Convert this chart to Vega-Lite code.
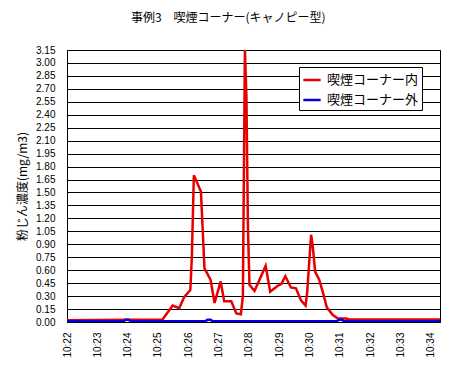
{
  "$schema": "https://vega.github.io/schema/vega-lite/v6.json",
  "autosize": {"type": "none"},
  "width": 373,
  "height": 272,
  "padding": {"left": 67, "top": 50, "right": 20, "bottom": 49},
  "background": "white",
  "title": {
    "text": "事例3　喫煙コーナー(キャノピー型)",
    "font": "Noto Sans CJK JP",
    "fontSize": 12,
    "fontWeight": "normal",
    "color": "black",
    "anchor": "middle",
    "frame": "bounds",
    "offset": 20
  },
  "config": {
    "view": {"stroke": "black", "strokeWidth": 1},
    "axis": {"grid": false, "domain": false, "ticks": false, "labelColor": "black", "titleColor": "black"}
  },
  "data": {
    "values": [
      {"sec": 0, "series": "喫煙コーナー内", "v": 0.02},
      {"sec": 189, "series": "喫煙コーナー内", "v": 0.03},
      {"sec": 209, "series": "喫煙コーナー内", "v": 0.19},
      {"sec": 222, "series": "喫煙コーナー内", "v": 0.16},
      {"sec": 232, "series": "喫煙コーナー内", "v": 0.29},
      {"sec": 244, "series": "喫煙コーナー内", "v": 0.37},
      {"sec": 247, "series": "喫煙コーナー内", "v": 0.75},
      {"sec": 251, "series": "喫煙コーナー内", "v": 1.70},
      {"sec": 265, "series": "喫煙コーナー内", "v": 1.51},
      {"sec": 272, "series": "喫煙コーナー内", "v": 0.62},
      {"sec": 284, "series": "喫煙コーナー内", "v": 0.49},
      {"sec": 292, "series": "喫煙コーナー内", "v": 0.22},
      {"sec": 304, "series": "喫煙コーナー内", "v": 0.47},
      {"sec": 311, "series": "喫煙コーナー内", "v": 0.24},
      {"sec": 325, "series": "喫煙コーナー内", "v": 0.24},
      {"sec": 335, "series": "喫煙コーナー内", "v": 0.10},
      {"sec": 344, "series": "喫煙コーナー内", "v": 0.09},
      {"sec": 348, "series": "喫煙コーナー内", "v": 0.30},
      {"sec": 352, "series": "喫煙コーナー内", "v": 3.15},
      {"sec": 355, "series": "喫煙コーナー内", "v": 2.60},
      {"sec": 358, "series": "喫煙コーナー内", "v": 1.10},
      {"sec": 361, "series": "喫煙コーナー内", "v": 0.43},
      {"sec": 371, "series": "喫煙コーナー内", "v": 0.36},
      {"sec": 393, "series": "喫煙コーナー内", "v": 0.65},
      {"sec": 402, "series": "喫煙コーナー内", "v": 0.35},
      {"sec": 417, "series": "喫煙コーナー内", "v": 0.42},
      {"sec": 424, "series": "喫煙コーナー内", "v": 0.44},
      {"sec": 432, "series": "喫煙コーナー内", "v": 0.53},
      {"sec": 443, "series": "喫煙コーナー内", "v": 0.40},
      {"sec": 453, "series": "喫煙コーナー内", "v": 0.39},
      {"sec": 463, "series": "喫煙コーナー内", "v": 0.25},
      {"sec": 472, "series": "喫煙コーナー内", "v": 0.19},
      {"sec": 475, "series": "喫煙コーナー内", "v": 0.33},
      {"sec": 483, "series": "喫煙コーナー内", "v": 1.01},
      {"sec": 486, "series": "喫煙コーナー内", "v": 0.89},
      {"sec": 491, "series": "喫煙コーナー内", "v": 0.58},
      {"sec": 499, "series": "喫煙コーナー内", "v": 0.49},
      {"sec": 506, "series": "喫煙コーナー内", "v": 0.35},
      {"sec": 514, "series": "喫煙コーナー内", "v": 0.17},
      {"sec": 526, "series": "喫煙コーナー内", "v": 0.08},
      {"sec": 536, "series": "喫煙コーナー内", "v": 0.04},
      {"sec": 552, "series": "喫煙コーナー内", "v": 0.04},
      {"sec": 559, "series": "喫煙コーナー内", "v": 0.03},
      {"sec": 738, "series": "喫煙コーナー内", "v": 0.03},
      {"sec": 0, "series": "喫煙コーナー外", "v": 0.01},
      {"sec": 112, "series": "喫煙コーナー外", "v": 0.01},
      {"sec": 116, "series": "喫煙コーナー外", "v": 0.025},
      {"sec": 122, "series": "喫煙コーナー外", "v": 0.025},
      {"sec": 126, "series": "喫煙コーナー外", "v": 0.01},
      {"sec": 274, "series": "喫煙コーナー外", "v": 0.01},
      {"sec": 278, "series": "喫煙コーナー外", "v": 0.025},
      {"sec": 284, "series": "喫煙コーナー外", "v": 0.025},
      {"sec": 288, "series": "喫煙コーナー外", "v": 0.01},
      {"sec": 534, "series": "喫煙コーナー外", "v": 0.01},
      {"sec": 538, "series": "喫煙コーナー外", "v": 0.025},
      {"sec": 544, "series": "喫煙コーナー外", "v": 0.025},
      {"sec": 548, "series": "喫煙コーナー外", "v": 0.01},
      {"sec": 738, "series": "喫煙コーナー外", "v": 0.01}
    ]
  },
  "mark": {"type": "line", "strokeWidth": 2.5, "clip": true},
  "encoding": {
    "x": {
      "field": "sec",
      "type": "quantitative",
      "scale": {"domain": [0, 738], "nice": false, "zero": false},
      "axis": {
        "title": null,
        "values": [0, 60, 120, 180, 240, 300, 360, 420, 480, 540, 600, 660, 720],
        "labelExpr": "'10:' + (22 + datum.value / 60)",
        "labelAngle": 270,
        "labelFont": "Liberation Sans",
        "labelFontSize": 10,
        "labelPadding": 10,
        "labelFlush": false,
        "labelOverlap": false
      }
    },
    "y": {
      "field": "v",
      "type": "quantitative",
      "scale": {"domain": [0, 3.15], "nice": false},
      "axis": {
        "title": "粉じん濃度(mg/m3)",
        "titleFont": "Noto Sans CJK JP",
        "titleFontSize": 12,
        "titleFontWeight": "normal",
        "titlePadding": 6,
        "values": [0, 0.15, 0.3, 0.45, 0.6, 0.75, 0.9, 1.05, 1.2, 1.35, 1.5, 1.65, 1.8, 1.95, 2.1, 2.25, 2.4, 2.55, 2.7, 2.85, 3.0, 3.15],
        "format": ".2f",
        "grid": true,
        "gridColor": "black",
        "gridWidth": 1,
        "gridOpacity": 1,
        "labelFont": "Liberation Sans",
        "labelFontSize": 10,
        "labelPadding": 12,
        "labelOverlap": false,
        "labelFlush": false
      }
    },
    "color": {
      "field": "series",
      "type": "nominal",
      "scale": {"domain": ["喫煙コーナー内", "喫煙コーナー外"], "range": ["#e60000", "#0000e0"]},
      "legend": {
        "title": null,
        "orient": "none",
        "legendX": 232,
        "legendY": 17,
        "fillColor": "white",
        "strokeColor": "black",
        "padding": 3,
        "rowPadding": 3,
        "symbolType": "stroke",
        "symbolSize": 300,
        "symbolStrokeWidth": 2.5,
        "labelFont": "Noto Sans CJK JP",
        "labelFontSize": 13,
        "labelColor": "black",
        "labelOffset": 5
      }
    }
  }
}
